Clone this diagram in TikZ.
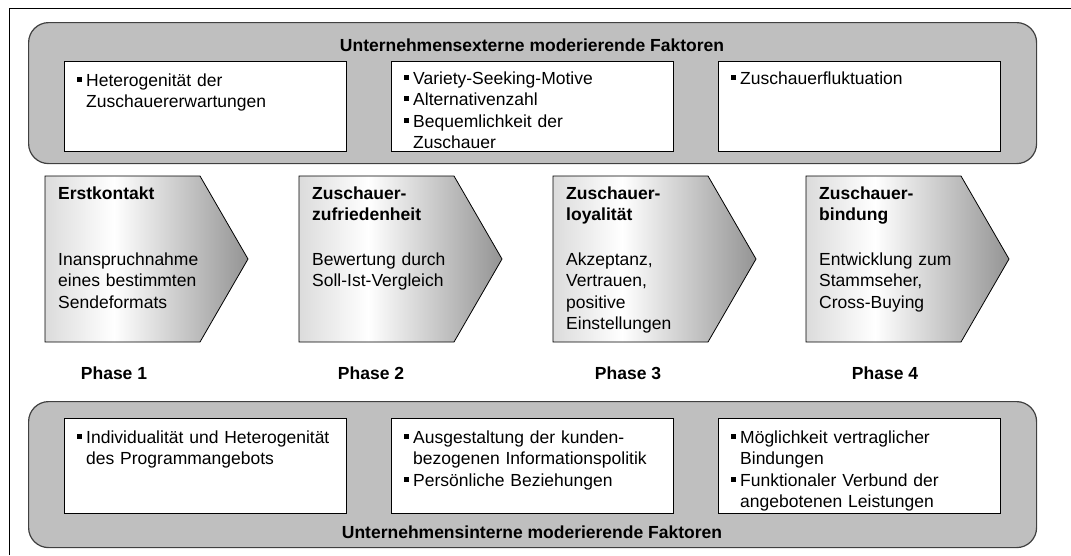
\documentclass[tikz,border=0pt]{standalone}
\usepackage{fontspec}
\setmainfont{Liberation Sans}
\usetikzlibrary{positioning}

\pgfdeclarehorizontalshading{phaseshade}{100bp}{color(0bp)=(black!14); color(25bp)=(black!14); color(42bp)=(white); color(75bp)=(black!42); color(100bp)=(black!42)}

\newcommand{\fs}{\fontsize{17.5}{21.5}\selectfont}
\newcommand{\bul}{\makebox[9pt][l]{\rule[4.5pt]{4.8pt}{4.8pt}}}
\newcommand{\ind}{\hspace*{9pt}}

\tikzset{
  outer/.style={draw=black!75, fill=black!25, line width=1.2pt, rounded corners=20pt,
    minimum width=1008pt, inner sep=0, anchor=north west},
  factor/.style={draw=black, fill=white, line width=0.8pt, minimum width=282pt,
    inner sep=0, anchor=north west},
  items/.style={text width=256pt, align=left, inner sep=0, anchor=base west},
  ftitle/.style={font=\fs\bfseries, inner sep=0, anchor=base},
  phase/.style={shading=phaseshade, draw=black, line width=0.8pt},
  ptitle/.style={font=\fs\bfseries, text width=150pt, align=left, inner sep=0, anchor=base west},
  ptext/.style={text width=150pt, align=left, inner sep=0, anchor=base west},
  plabel/.style={font=\fs\bfseries, inner sep=0, anchor=base}
}

\begin{document}
\begin{tikzpicture}[x=1pt, y=-1pt, font=\fs]
  \useasboundingbox (0,0) rectangle (1071,555);
  \draw[line width=1pt] (9,555) -- (9,8) -- (1071,8);

  % externe Faktoren
  \node[outer, minimum height=141pt] (ext) at (28,22) {};
  \node[ftitle] (exttitle) at (532,51) {Unternehmensexterne moderierende Faktoren};
  \node[factor, minimum height=90pt] (ext1) at (64,61) {};
  \node[factor, minimum height=90pt] (ext2) at (391,61) {};
  \node[factor, minimum height=90pt] (ext3) at (718,61) {};
  \node[items] (ext1txt) at ([xshift=13pt, yshift=-25pt]ext1.north west)
    {\bul Heterogenität der\newline\ind Zuschauererwartungen};
  \node[items] (ext2txt) at ([xshift=13pt, yshift=-23pt]ext2.north west)
    {\bul Variety-Seeking-Motive\newline\bul Alternativenzahl\newline\bul Bequemlichkeit der\newline\ind Zuschauer};
  \node[items] (ext3txt) at ([xshift=13pt, yshift=-23pt]ext3.north west)
    {\bul Zuschauerfluktuation};

  % Phasen
  \foreach \x/\n in {45/1, 299/2, 553/3, 806/4}
    \shadedraw[phase] (\x,176) -- ++(155,0) -- ++(48,83) -- ++(-48,83) -- ++(-155,0) -- cycle;

  \node[ptitle] (t1) at (58,199) {Erstkontakt};
  \node[ptext] (d1) at (58,265) {Inanspruchnahme\\eines bestimmten\\Sendeformats};
  \node[ptitle] (t2) at (312,199) {Zuschauer-\\zufriedenheit};
  \node[ptext] (d2) at (312,265) {Bewertung durch\\Soll-Ist-Vergleich};
  \node[ptitle] (t3) at (566,199) {Zuschauer-\\loyalität};
  \node[ptext] (d3) at (566,265) {Akzeptanz,\\Vertrauen,\\positive\\Einstellungen};
  \node[ptitle] (t4) at (819,199) {Zuschauer-\\bindung};
  \node[ptext] (d4) at (819,265) {Entwicklung zum\\Stammseher,\\Cross-Buying};

  \node[plabel] (ph1) at (114,379) {Phase 1};
  \node[plabel] (ph2) at (371,379) {Phase 2};
  \node[plabel] (ph3) at (628,379) {Phase 3};
  \node[plabel] (ph4) at (885,379) {Phase 4};

  % interne Faktoren
  \node[outer, minimum height=146pt] (int) at (28,401) {};
  \node[ftitle] (inttitle) at (532,538) {Unternehmensinterne moderierende Faktoren};
  \node[factor, minimum height=95pt] (int1) at (64,418) {};
  \node[factor, minimum height=95pt] (int2) at (391,418) {};
  \node[factor, minimum height=95pt] (int3) at (718,418) {};
  \node[items] (int1txt) at ([xshift=13pt, yshift=-25pt]int1.north west)
    {\bul Individualität und Heterogenität\newline\ind des Programmangebots};
  \node[items] (int2txt) at ([xshift=13pt, yshift=-25pt]int2.north west)
    {\bul Ausgestaltung der kunden-\newline\ind bezogenen Informationspolitik\newline\bul Persönliche Beziehungen};
  \node[items] (int3txt) at ([xshift=13pt, yshift=-25pt]int3.north west)
    {\bul Möglichkeit vertraglicher\newline\ind Bindungen\newline\bul Funktionaler Verbund der\newline\ind angebotenen Leistungen};
\end{tikzpicture}
\end{document}
